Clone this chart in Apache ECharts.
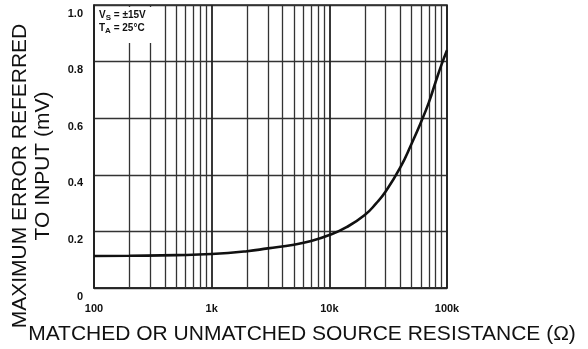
<!DOCTYPE html>
<html>
<head>
<meta charset="utf-8">
<script src="https://cdn.jsdelivr.net/npm/echarts@6/dist/echarts.min.js"></script>
<style>
html,body{margin:0;padding:0;background:#fff;}
#chart{width:588px;height:349px;}
</style>
</head>
<body>
<div id="chart"></div>
<script>
// Source resistance (ohms)
const resistance = [100, 200, 500, 1000, 2000, 3000, 5000, 7000, 10000, 14000, 20000, 25000, 30000, 40000, 50000, 60000, 70000, 80000, 90000, 100000];
// Maximum error referred to input (mV)
const errorMv = [0.113, 0.114, 0.116, 0.120, 0.130, 0.140, 0.153, 0.166, 0.187, 0.215, 0.258, 0.299, 0.340, 0.425, 0.510, 0.585, 0.655, 0.728, 0.790, 0.840];
const xTickLabels = {100: '100', 1000: '1k', 10000: '10k', 100000: '100k'};
const yTicks = [0, 0.2, 0.4, 0.6, 0.8, 1.0];

// minor log gridlines (2..9 of each decade)
const decades = [100, 1000, 10000];
const minorGrid = [];
decades.forEach(d => { for (let k = 2; k <= 9; k++) minorGrid.push(k * d); });

const chart = echarts.init(document.getElementById('chart'));
const fontFam = '"Liberation Sans", Arial, sans-serif';

chart.setOption({
  animation: false,
  backgroundColor: '#fff',
  grid: {left: 94, top: 5, right: 141, bottom: 61, show: true, borderColor: '#222', borderWidth: 1.5, backgroundColor: 'transparent'},
  xAxis: {
    type: 'log', logBase: 10, min: 100, max: 100000,
    axisLine: {show: true, lineStyle: {color: '#222', width: 1.5}},
    axisTick: {show: false},
    splitLine: {show: true, lineStyle: {color: '#222', width: 1.8}},
    axisLabel: {
      color: '#111', fontFamily: fontFam, fontWeight: 'bold', fontSize: 11, margin: 15,
      formatter: v => xTickLabels[Math.round(v)] || ''
    }
  },
  yAxis: {
    type: 'value', min: 0, max: 1, interval: 0.2,
    axisLine: {show: true, lineStyle: {color: '#222', width: 1.5}},
    axisTick: {show: false},
    splitLine: {show: true, lineStyle: {color: '#333', width: 1.3}},
    axisLabel: {
      color: '#111', fontFamily: fontFam, fontWeight: 'bold', fontSize: 11, margin: 11,
      verticalAlign: 'top', padding: [3, 0, 0, 0],
      formatter: v => v === 0 ? '0' : v.toFixed(1)
    }
  },
  series: [
    {
      type: 'line', data: [], silent: true,
      markLine: {
        silent: true, symbol: ['none', 'none'], label: {show: false},
        lineStyle: {color: '#333', width: 1.3, type: 'solid'},
        data: minorGrid.map(v => ({xAxis: v}))
      }
    },
    {
      type: 'line', smooth: 0.5, showSymbol: false, silent: true,
      data: resistance.map((r, i) => [r, errorMv[i]]),
      lineStyle: {color: '#111', width: 2.6},
      z: 5
    }
  ],
  graphic: [
    {
      type: 'rect', shape: {x: 96, y: 7, width: 58, height: 36}, z: 8,
      style: {fill: '#fff'}
    },
    {
      type: 'text', left: 99, top: 9, z: 10,
      style: {
        text: '{b|V}{s|S}{b| = ±15V}\n{b|T}{s|A}{b| = 25°C}',
        rich: {
          b: {fontFamily: fontFam, fontWeight: 'bold', fontSize: 10, fill: '#111', lineHeight: 13},
          s: {fontFamily: fontFam, fontWeight: 'bold', fontSize: 8, fill: '#111', padding: [5, 0, 0, 0], lineHeight: 13}
        }
      }
    },
    {
      type: 'text', x: 20, y: 176, rotation: Math.PI / 2,
      style: {text: 'MAXIMUM ERROR REFERRED', fontFamily: fontFam, fontSize: 21, fill: '#111', align: 'center', verticalAlign: 'middle'}
    },
    {
      type: 'text', x: 43, y: 166, rotation: Math.PI / 2,
      style: {text: 'TO INPUT (mV)', fontFamily: fontFam, fontSize: 21, fill: '#111', align: 'center', verticalAlign: 'middle'}
    },
    {
      type: 'text', x: 302, y: 334,
      style: {text: 'MATCHED OR UNMATCHED SOURCE RESISTANCE (Ω)', fontFamily: fontFam, fontSize: 21, fill: '#111', align: 'center', verticalAlign: 'middle'}
    }
  ]
});
</script>
</body>
</html>
